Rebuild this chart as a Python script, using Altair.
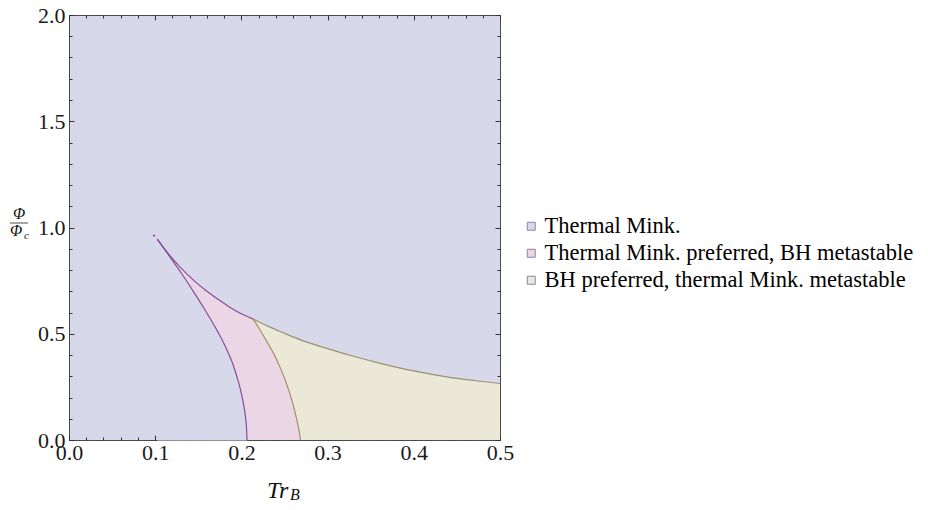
import altair as alt
import pandas as pd

# ---------------- data ----------------
regions = ["Thermal Mink.",
           "Thermal Mink. preferred, BH metastable",
           "BH preferred, thermal Mink. metastable"]
region_fill = ["#d8d8eb", "#ead6e4", "#ebe8d8"]

# left boundary (purple): Thermal Mink. | Mink. preferred
left_x = [0.1024, 0.115, 0.130, 0.145, 0.1578, 0.170, 0.181, 0.190, 0.1964, 0.2010, 0.2042, 0.2058, 0.2066]
left_y = [0.945, 0.874, 0.787, 0.695, 0.612, 0.528, 0.443, 0.358, 0.276, 0.199, 0.125, 0.066, 0.0]

# upper boundary of the pink region (purple)
top_left_x = [0.1024, 0.115, 0.130, 0.145, 0.160, 0.175, 0.187, 0.200, 0.2138]
top_left_y = [0.945, 0.878, 0.809, 0.750, 0.700, 0.656, 0.624, 0.594, 0.569]

# middle boundary (tan): Mink. preferred | BH preferred
mid_x = [0.2138, 0.222, 0.230, 0.237, 0.244, 0.251, 0.257, 0.262, 0.2655, 0.2675, 0.2685]
mid_y = [0.569, 0.515, 0.460, 0.410, 0.350, 0.280, 0.208, 0.135, 0.072, 0.030, 0.0]

# upper boundary of the beige region (tan)
top_right_x = [0.2138, 0.230, 0.250, 0.270, 0.300, 0.330, 0.360, 0.400, 0.440, 0.470, 0.500]
top_right_y = [0.569, 0.537, 0.502, 0.469, 0.430, 0.394, 0.362, 0.325, 0.296, 0.280, 0.266]

tip_x = [0.0986]
tip_y = [0.962]

x_major = [0.0, 0.1, 0.2, 0.3, 0.4, 0.5]
x_minor = [round(i * 0.02, 2) for i in range(26)]
y_major = [0.0, 0.5, 1.0, 1.5, 2.0]
y_minor = [round(i * 0.1, 1) for i in range(21)]

x_title = ["Tr", "B"]
y_title = ["Φ", "Φ", "c"]

# ---------------- styling ----------------
SERIF = "Liberation Serif"
PURPLE = "#8a4c9b"
TAN = "#a6906a"
TAN2 = "#9b9274"
TICK = "#333333"

xs = alt.Scale(domain=[0, 0.5], nice=False, zero=False)
ys = alt.Scale(domain=[0, 2], nice=False, zero=False)


def axis(orient, values, size, labels):
    kw = dict(orient=orient, values=values, tickSize=size, offset=-size,
              domain=False, grid=False, title=None, tickColor=TICK,
              tickWidth=1, labels=labels)
    if labels:
        kw.update(format=".1f", labelFont=SERIF, labelFontSize=22,
                  labelColor="#1a1a1a", labelFlush=False, labelOverlap=False,
                  labelPadding=2 if orient == "bottom" else 4)
    return alt.Axis(**kw)


def X(ax):
    return alt.X("x:Q", scale=xs, axis=ax)


def Y(ax):
    return alt.Y("y:Q", scale=ys, axis=ax, stack=None)


color = alt.Color(
    "region:N",
    scale=alt.Scale(domain=regions, range=region_fill),
    legend=alt.Legend(
        title=None, orient="none", legendX=451, legendY=200,
        symbolType="square", symbolSize=64, symbolStrokeWidth=1,
        symbolStrokeColor="#8f84a6", symbolOpacity=1,
        labelFont=SERIF, labelFontSize=22.5, labelColor="#000000",
        labelLimit=0, rowPadding=4, labelOffset=2, padding=0,
    ),
)

beige_df = pd.DataFrame({"x": top_right_x, "y": top_right_y, "region": regions[2]})
pink_df = pd.DataFrame({"x": top_left_x + mid_x[1:], "y": top_left_y + mid_y[1:],
                        "region": regions[1]})
lav_df = pd.DataFrame({"x": left_x, "y": left_y})

beige = alt.Chart(beige_df).mark_area(interpolate="monotone").encode(
    x=X(axis("bottom", x_major, 5, True)),
    y=Y(axis("left", y_major, 5, True)),
    color=color,
)
pink = alt.Chart(pink_df).mark_area(interpolate="monotone").encode(
    x=X(None), y=Y(None), color=color,
)
lav = alt.Chart(lav_df).mark_area(fill=region_fill[0], stroke=region_fill[0],
                                  strokeWidth=1, interpolate="monotone").encode(
    x=X(None), y=Y(None),
)


def curve(xv, yv, col, ax_x, ax_y):
    df = pd.DataFrame({"x": xv, "y": yv, "o": list(range(len(xv)))})
    return alt.Chart(df).mark_line(color=col, strokeWidth=1.2, interpolate="monotone").encode(
        x=X(ax_x), y=Y(ax_y), order="o:Q"
    )


l_left = curve(left_x, left_y, PURPLE,
               axis("bottom", x_minor, 3, False), axis("left", y_minor, 3, False))
l_top = curve(top_left_x, top_left_y, PURPLE,
              axis("top", x_major, 5, False), axis("right", y_major, 5, False))
l_mid = curve(mid_x, mid_y, TAN,
              axis("top", x_minor, 3, False), axis("right", y_minor, 3, False))
l_topr = curve(top_right_x, top_right_y, TAN2, None, None)

tip = alt.Chart(pd.DataFrame({"x": tip_x, "y": tip_y})).mark_circle(
    color=PURPLE, size=5, opacity=1).encode(x=X(None), y=Y(None))


def label(txt, px, py, size, align="left"):
    return alt.Chart(pd.DataFrame({"t": [txt]})).mark_text(
        font=SERIF, fontStyle="italic", fontSize=size, align=align,
        baseline="alphabetic", color="#111111"
    ).encode(text="t:N", x=alt.value(px), y=alt.value(py))


t_tr = label(x_title[0], 198, 483, 24)
t_b = label(x_title[1], 221, 485, 16)
t_num = label(y_title[0], -50, 204, 16, "center")
t_den = label(y_title[1], -53, 221, 16, "center")
t_c = label(y_title[2], -45, 224, 11)
frac = alt.Chart(pd.DataFrame({"a": [0]})).mark_rule(color="#222222", strokeWidth=0.8).encode(
    x=alt.value(-59), x2=alt.value(-41), y=alt.value(208)
)

chart = alt.layer(
    beige, pink, lav, l_left, l_top, l_mid, l_topr, tip,
    t_tr, t_b, t_num, t_den, t_c, frac,
).resolve_axis(
    x="independent", y="independent"
).properties(
    width=431, height=425,
    autosize=alt.AutoSizeParams(type="none"),
    padding={"left": 61, "top": 7, "right": 420, "bottom": 62},
).configure_view(
    fill=region_fill[0], stroke="#4a4a4a", strokeWidth=1
)

chart.save("out.html", embed_options={"renderer": "svg", "actions": False})
